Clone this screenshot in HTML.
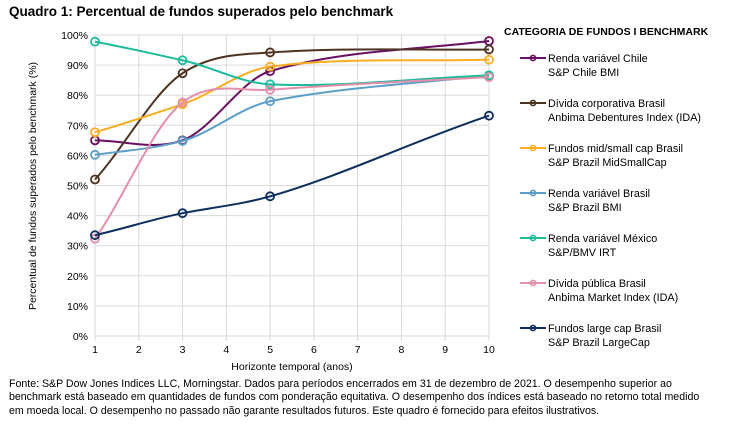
<!DOCTYPE html>
<html><head><meta charset="utf-8"><style>
body{margin:0;background:#fff;font-family:"Liberation Sans",Arial,sans-serif;}
#wrap{position:relative;width:740px;height:424px;overflow:hidden;}
.t{position:absolute;color:#000;}
</style></head><body>
<div id="wrap">
<div class="t" style="left:9px;top:4px;font-size:13.5px;font-weight:bold;">Quadro 1: Percentual de fundos superados pelo benchmark</div>
<svg id="chart" width="740" height="424" style="position:absolute;left:0;top:0"></svg>
<div class="t" style="left:9px;top:378px;font-size:10.6px;line-height:13.4px;width:706px;">Fonte: S&amp;P Dow Jones Indices LLC, Morningstar. Dados para períodos encerrados em 31 de dezembro de 2021. O desempenho superior ao benchmark está baseado em quantidades de fundos com ponderação equitativa. O desempenho dos índices está baseado no retorno total medido em moeda local. O desempenho no passado não garante resultados futuros. Este quadro é fornecido para efeitos ilustrativos.</div>
</div>
<script>
const categories=[1,3,5,10];
const xTicks=[1,2,3,4,5,6,7,8,9,10];
const yTicks=[0,10,20,30,40,50,60,70,80,90,100];
const seriesNames=[["Renda variável Chile","S&P Chile BMI"],["Dívida corporativa Brasil","Anbima Debentures Index (IDA)"],["Fundos mid/small cap Brasil","S&P Brazil MidSmallCap"],["Renda variável Brasil","S&P Brazil BMI"],["Renda variável México","S&P/BMV IRT"],["Dívida pública Brasil","Anbima Market Index (IDA)"],["Fundos large cap Brasil","S&P Brazil LargeCap"]];
const chile=[65,65,88,98];
const corp=[52,87.3,94.2,95.2];
const midsmall=[67.7,77,89.5,91.8];
const brasil=[60.2,64.8,78,86.5];
const mexico=[97.8,91.6,83.6,86.6];
const publica=[32.3,77.6,81.8,86];
const largecap=[33.5,40.8,46.4,73.2];
const seriesValues=[chile,corp,midsmall,brasil,mexico,publica,largecap];
const colors=["#6a0f64","#4e3222","#fbad21","#5b9ec9","#1bbc9b","#e58ea8","#0d2f5e"];
const NS="http://www.w3.org/2000/svg";
const svg=document.getElementById('chart');
const X=v=>95+(v-1)*(489-95)/9;
const Y=v=>336-v*(336-35)/100;
function mk(tag,attrs,parent){const e=document.createElementNS(NS,tag);for(const k in attrs)e.setAttribute(k,attrs[k]);(parent||svg).appendChild(e);return e;}
yTicks.forEach(t=>{const l=mk('line',{x1:95,x2:489,y1:Y(t),y2:Y(t),stroke:'#d9d9d9','stroke-width':1});


const tx=mk('text',{x:88,y:Y(t)+4,'text-anchor':'end','font-size':10.5,'font-family':'Liberation Sans'});tx.textContent=t+'%';

});
xTicks.forEach(t=>{const l=mk('line',{x1:X(t),x2:X(t),y1:35,y2:341,stroke:'#d9d9d9','stroke-width':1});


const tx=mk('text',{x:X(t),y:353,'text-anchor':'middle','font-size':10.5,'font-family':'Liberation Sans'});tx.textContent=t;

});
const xt=mk('text',{x:292,y:370,'text-anchor':'middle','font-size':10.5,'font-family':'Liberation Sans'});xt.textContent='Horizonte temporal (anos)';


const yt=mk('text',{x:0,y:0,'text-anchor':'middle','font-size':10.5,'font-family':'Liberation Sans',transform:'translate(36,186) rotate(-90)'});yt.textContent='Percentual de fundos superados pelo benchmark (%)';


function smooth(pts){let d=`M${pts[0][0]},${pts[0][1]}`;const n=pts.length;
for(let i=0;i<n-1;i++){const p0=pts[Math.max(i-1,0)],p1=pts[i],p2=pts[i+1],p3=pts[Math.min(i+2,n-1)];
const dx=(p2[0]-p1[0])/3;
const s1=(p2[1]-p0[1])/(p2[0]-p0[0]),s2=(p3[1]-p1[1])/(p3[0]-p1[0]);
d+=` C${p1[0]+dx},${p1[1]+s1*dx*0.9} ${p2[0]-dx},${p2[1]-s2*dx*0.9} ${p2[0]},${p2[1]}`;}
return d;}
seriesValues.forEach((vals,si)=>{const pts=vals.map((v,i)=>[X(categories[i]),Y(v)]);
const p=mk('path',{d:smooth(pts),fill:'none',stroke:colors[si],'stroke-width':2});


pts.forEach(pt=>{const c=mk('circle',{cx:pt[0],cy:pt[1],r:4,fill:'none',stroke:colors[si],'stroke-width':1.8});

});});
const lh=mk('text',{x:504,y:35,'font-size':10.5,'font-weight':'bold','font-family':'Liberation Sans'});lh.textContent='CATEGORIA DE FUNDOS I BENCHMARK';


seriesNames.forEach((nm,i)=>{const y=58+i*45;
const g=mk('g',{});


mk('line',{x1:520,x2:546,y1:y,y2:y,stroke:colors[i],'stroke-width':2},g);
mk('circle',{cx:533,cy:y,r:2.6,fill:'none',stroke:colors[i],'stroke-width':1.6},g);
nm.forEach((s,j)=>{const t=mk('text',{x:548,y:y+4+j*14,'font-size':10.8,'font-family':'Liberation Sans'},g);t.textContent=s;});});
</script>
</body></html>
